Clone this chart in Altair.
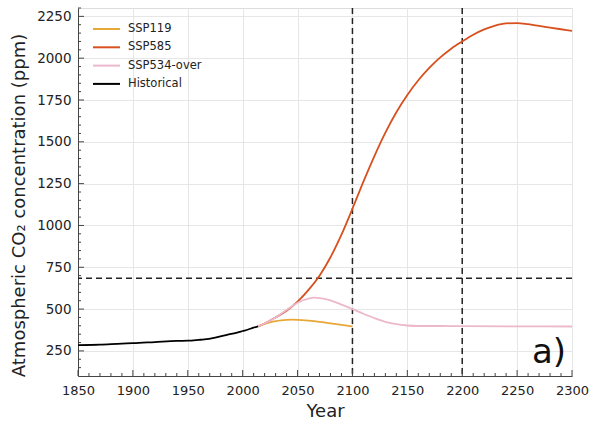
import altair as alt
import pandas as pd

# Historical CO2 record (ppm)
hist_years = [1850, 1870, 1890, 1900, 1920, 1940, 1950, 1960, 1965, 1975, 1985, 1995, 2000, 2005, 2010, 2014]
hist_vals = [285, 288, 294, 296, 303, 310, 311, 316, 319, 330, 345, 360, 369, 378, 389, 397]

# SSP119 concentration pathway
ssp119_years = [2014, 2020, 2025, 2030, 2035, 2040, 2045, 2050, 2060, 2070, 2080, 2090, 2100]
ssp119_vals = [397, 412, 421, 428, 433, 436, 437, 436, 431, 424, 415, 405, 396]

# SSP585 concentration pathway
ssp585_years = [2014, 2020, 2030, 2040, 2050, 2060, 2070, 2080, 2090, 2100, 2110, 2120, 2130,
                2140, 2150, 2160, 2170, 2180, 2190, 2200, 2210, 2220, 2230, 2240, 2250,
                2260, 2270, 2280, 2290, 2300]
ssp585_vals = [397, 414, 450, 490, 545, 615, 700, 810, 945, 1100, 1262, 1415, 1555,
               1677, 1780, 1868, 1942, 2005, 2057, 2100, 2140, 2172, 2195, 2208, 2210,
               2203, 2193, 2183, 2173, 2163]

# SSP534-over concentration pathway
ssp534_years = [2014, 2020, 2030, 2040, 2050, 2060, 2065, 2070, 2080, 2090, 2100, 2110, 2120,
                2130, 2140, 2150, 2160, 2180, 2200, 2250, 2300]
ssp534_vals = [397, 414, 450, 495, 538, 563, 568, 566, 552, 527, 500, 472, 446,
               424, 410, 402, 399, 399, 398, 397, 396]

series_names = ["SSP119", "SSP585", "SSP534-over", "Historical"]
series_colors = ["#e8a838", "#d8501e", "#ebb8cc", "#000000"]

threshold_ppm = 685
marker_years = [2100, 2200]

x_ticks = list(range(1850, 2301, 50))
y_ticks = list(range(250, 2251, 250))
x_minor = [y for y in range(1850, 2301, 10) if y % 50 != 0]
y_minor = [v for v in range(150, 2301, 50) if v % 250 != 0]

rows = []
for name, yrs, vals in [("SSP119", ssp119_years, ssp119_vals),
                        ("SSP585", ssp585_years, ssp585_vals),
                        ("SSP534-over", ssp534_years, ssp534_vals),
                        ("Historical", hist_years, hist_vals)]:
    for yr, v in zip(yrs, vals):
        rows.append({"Year": yr, "ppm": v, "Scenario": name})
df = pd.DataFrame(rows)

W, H = 494, 368
FONT = "DejaVu Sans"

xscale = alt.Scale(domain=[1850, 2300], nice=False, zero=False)
yscale = alt.Scale(domain=[100, 2300], nice=False, zero=False)
cscale = alt.Scale(domain=series_names, range=series_colors)

lines = alt.Chart(df).mark_line(strokeWidth=1.8, interpolate="monotone").encode(
    x=alt.X("Year:Q", scale=xscale,
            axis=alt.Axis(values=x_ticks, format="d", title="Year", ticks=False,
                          labelFlush=False, labelOverlap=False,
                          labelFontSize=13, titleFontSize=18, labelPadding=8,
                          titlePadding=5, domainColor="#444", gridColor="#e6e6e6")),
    y=alt.Y("ppm:Q", scale=yscale,
            axis=alt.Axis(values=y_ticks, format="d",
                          title="Atmospheric CO₂ concentration (ppm)",
                          ticks=False, labelFlush=False, labelOverlap=False,
                          labelFontSize=13.5, titleFontSize=18,
                          labelPadding=7, titlePadding=8, titleY=197,
                          domainColor="#444", gridColor="#e6e6e6")),
    color=alt.Color("Scenario:N", scale=cscale, legend=None),
    detail="Scenario:N",
)

# Legend in the upper-left corner: a short line and a label per scenario
legend_layers = []
for i, name in enumerate(series_names):
    ly = 21 + i * 18.3
    key = alt.Chart(pd.DataFrame({"Scenario": [name]})).mark_rule(strokeWidth=2).encode(
        x=alt.value(15), x2=alt.value(42), y=alt.value(ly),
        color=alt.Color("Scenario:N", scale=cscale, legend=None))
    lab = alt.Chart(pd.DataFrame({"Scenario": [name]})).mark_text(
        align="left", baseline="middle", fontSize=11.5, font=FONT, color="#222").encode(
        text="Scenario:N", x=alt.value(50), y=alt.value(ly))
    legend_layers += [key, lab]

hline = alt.Chart(pd.DataFrame({"ppm": [threshold_ppm]})).mark_rule(
    color="#222", strokeDash=[6, 4], strokeWidth=1.5).encode(y=alt.Y("ppm:Q", scale=yscale))

vlines = alt.Chart(pd.DataFrame({"Year": marker_years})).mark_rule(
    color="#222", strokeDash=[6, 4], strokeWidth=1.5).encode(x=alt.X("Year:Q", scale=xscale))

# inward-pointing ticks drawn as short rules
xmaj = alt.Chart(pd.DataFrame({"Year": x_ticks})).mark_rule(color="#444", strokeWidth=1).encode(
    x=alt.X("Year:Q", scale=xscale), y=alt.value(H), y2=alt.value(H - 6))
xmin = alt.Chart(pd.DataFrame({"Year": x_minor})).mark_rule(color="#444", strokeWidth=1).encode(
    x=alt.X("Year:Q", scale=xscale), y=alt.value(H), y2=alt.value(H - 3))
ymaj = alt.Chart(pd.DataFrame({"ppm": y_ticks})).mark_rule(color="#444", strokeWidth=1).encode(
    y=alt.Y("ppm:Q", scale=yscale), x=alt.value(0), x2=alt.value(6))
ymin = alt.Chart(pd.DataFrame({"ppm": y_minor})).mark_rule(color="#444", strokeWidth=1).encode(
    y=alt.Y("ppm:Q", scale=yscale), x=alt.value(0), x2=alt.value(3))

panel = alt.Chart(pd.DataFrame({"t": ["a)"]})).mark_text(
    fontSize=34, align="right", baseline="middle", font=FONT, color="#111").encode(
    text="t:N", x=alt.value(W - 6), y=alt.value(H - 23))

chart = alt.layer(hline, vlines, lines, xmaj, xmin, ymaj, ymin, panel, *legend_layers).properties(
    width=W, height=H,
    autosize=alt.AutoSizeParams(type="none"),
    padding={"left": 78, "top": 8, "right": 17, "bottom": 45},
).configure_view(stroke="#444", strokeWidth=1.2).configure(
    font=FONT
).configure_axis(labelColor="#222", titleColor="#222", titleFontWeight="normal")

chart.save("out.html", embed_options={"renderer": "svg", "actions": False})
